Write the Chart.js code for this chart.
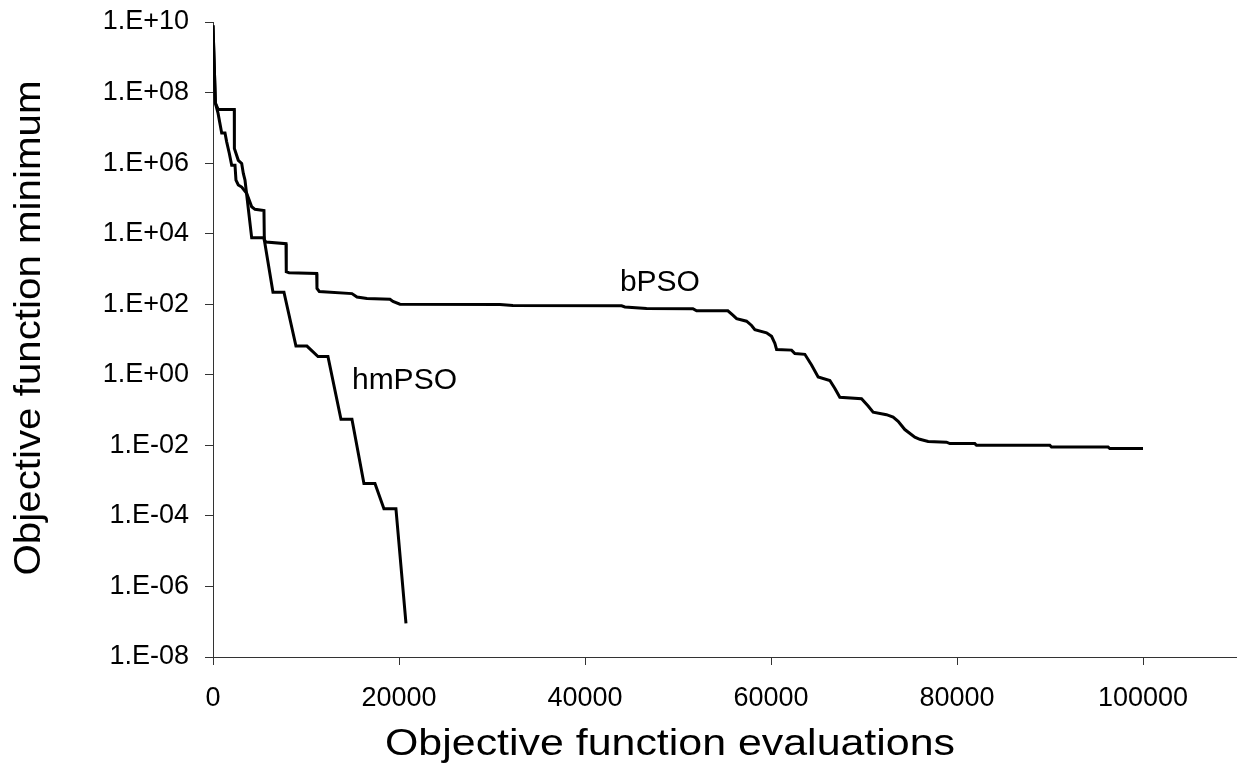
<!DOCTYPE html>
<html>
<head>
<meta charset="utf-8">
<script src="https://cdn.jsdelivr.net/npm/chart.js@4.4.1/dist/chart.umd.min.js"></script>
<style>
  html, body { margin: 0; padding: 0; background: #fff; }
  #wrap { width: 1248px; height: 772px; position: relative; }
</style>
</head>
<body>
<div id="wrap"><canvas id="psoChart"></canvas></div>
<script>
// hmPSO convergence curve (evaluations / best objective value)
const hmpsoEvals = [0, 260, 570, 2290, 2300, 2720, 3085, 3260, 3440, 4160, 5480, 6450, 7630, 8920, 10100,
  11290, 12360, 13760, 14940, 16230, 17415, 18380, 19670, 20750];
const hmpsoValues = [8e9, 5e7, 3.3e7, 3.3e7, 2.6e6, 1.2e6, 9.8e5, 5.1e5, 3.3e5, 7.6e3, 7.6e3, 220, 220, 6.5, 6.5,
  3.3, 3.3, 0.055, 0.055, 8.3e-4, 8.3e-4, 1.6e-4, 1.6e-4, 9e-8];

// bPSO convergence curve
const bpsoEvals = [0, 260, 540, 935, 1290, 1470, 1750, 2010, 2365, 2470, 2720, 3085, 3620, 4160, 4515, 5480,
  5520, 5700, 7850, 7880, 8170, 11150, 11180, 11430, 14940, 15480, 16555, 19030, 19350, 20100, 30850, 32250,
  43935, 44290, 46620, 51600, 52000, 55360, 55900, 56300, 57370, 57910, 58265, 59520, 60060, 60415, 60600,
  62210, 62565, 63640, 64360, 65070, 66330, 66870, 67400, 69735, 70445, 70980, 72420, 73130, 73670, 74390,
  75465, 76000, 76900, 78870, 79230, 81915, 82100, 89980, 90160, 96250, 96430, 100000];
const bpsoValues = [8e9, 5e7, 2.6e7, 7.1e6, 7.1e6, 4.0e6, 1.9e6, 8.7e5, 8.7e5, 3.3e5, 2.4e5, 2.1e5, 1.4e5, 5.8e4,
  4.9e4, 4.5e4, 6.6e3, 5.8e3, 5.2e3, 830, 780, 740, 280, 230, 200, 160, 145, 138, 120, 100, 98, 92,
  90, 84, 76, 75, 65, 65, 49, 39, 33, 25, 19, 15.5, 12.3, 7.8, 5.2,
  5.0, 4.0, 3.8, 1.9, 0.87, 0.69, 0.41, 0.23, 0.21, 0.13, 0.087, 0.074, 0.063, 0.048, 0.028,
  0.017, 0.0148, 0.0129, 0.0123, 0.0112, 0.0112, 0.0100, 0.0100, 0.0089, 0.0089, 0.0081, 0.0081];

// axis ticks
const evalTicks = [0, 20000, 40000, 60000, 80000, 100000];
const yTickValues = [1e-8, 1e-6, 1e-4, 1e-2, 1, 1e2, 1e4, 1e6, 1e8, 1e10];
const yTickLabels = ['1.E-08', '1.E-06', '1.E-04', '1.E-02', '1.E+00', '1.E+02', '1.E+04', '1.E+06', '1.E+08', '1.E+10'];

const xTitle = 'Objective function evaluations';
const yTitle = 'Objective function minimum';

// series name labels, anchored in data units (left edge, middle)
const seriesLabels = [
  { text: 'bPSO', x: 43750, y: 400 },
  { text: 'hmPSO', x: 14940, y: 0.66 }
];

const FONT = '"Liberation Sans", Arial, sans-serif';

function toPoints(xs, ys) {
  return xs.map((x, i) => ({ x: x, y: ys[i] }));
}

// axis titles and curve names drawn by hand so they can sit where Excel put them
const textPlugin = {
  id: 'textPlugin',
  afterDraw(chart) {
    const ctx = chart.ctx;
    const sx = chart.scales.x;
    const sy = chart.scales.y;
    ctx.save();
    ctx.fillStyle = '#000';

    ctx.font = '30px ' + FONT;
    ctx.textAlign = 'left';
    ctx.textBaseline = 'middle';
    seriesLabels.forEach(l => {
      ctx.fillText(l.text, sx.getPixelForValue(l.x), sy.getPixelForValue(l.y));
    });

    // x title
    ctx.font = '36px ' + FONT;
    ctx.textAlign = 'center';
    ctx.textBaseline = 'middle';
    let w = ctx.measureText(xTitle).width;
    ctx.save();
    ctx.translate(670, 745);
    ctx.scale(570 / w, 1);
    ctx.fillText(xTitle, 0, 0);
    ctx.restore();

    // y title
    w = ctx.measureText(yTitle).width;
    ctx.save();
    ctx.translate(30, 328);
    ctx.rotate(-Math.PI / 2);
    ctx.scale(495 / w, 1);
    ctx.fillText(yTitle, 0, 0);
    ctx.restore();

    ctx.restore();
  }
};

new Chart(document.getElementById('psoChart'), {
  type: 'line',
  data: {
    datasets: [{
      label: 'bPSO',
      data: toPoints(bpsoEvals, bpsoValues),
      borderColor: '#000',
      borderWidth: 3,
      pointRadius: 0,
      tension: 0,
      fill: false
    }, {
      label: 'hmPSO',
      data: toPoints(hmpsoEvals, hmpsoValues),
      borderColor: '#000',
      borderWidth: 3,
      pointRadius: 0,
      tension: 0,
      fill: false
    }]
  },
  options: {
    responsive: true,
    maintainAspectRatio: false,
    animation: false,
    layout: {
      padding: { top: 22, right: 12, left: 0, bottom: 0 }
    },
    plugins: {
      legend: { display: false },
      tooltip: { enabled: false }
    },
    scales: {
      x: {
        type: 'linear',
        min: 0,
        max: 110000,
        afterBuildTicks: function (scale) {
          scale.ticks = evalTicks.map(v => ({ value: v }));
        },
        afterFit: function (scale) {
          scale.height = 115;
          scale.paddingLeft = 0;
          scale.paddingRight = 0;
        },
        grid: {
          drawOnChartArea: false,
          drawTicks: true,
          tickLength: 8,
          color: '#333'
        },
        border: { display: true, color: '#333', width: 1 },
        ticks: {
          maxRotation: 0,
          padding: 17,
          color: '#000',
          font: { family: FONT, size: 27 },
          callback: function (value) {
            return String(value);
          }
        }
      },
      y: {
        type: 'logarithmic',
        min: 1e-8,
        max: 1e10,
        afterBuildTicks: function (scale) {
          scale.ticks = yTickValues.map(v => ({ value: v }));
        },
        afterFit: function (scale) {
          scale.width = 213;
          scale.paddingTop = 0;
          scale.paddingBottom = 0;
        },
        grid: {
          drawOnChartArea: false,
          drawTicks: true,
          tickLength: 8,
          color: '#333'
        },
        border: { display: true, color: '#333', width: 1 },
        ticks: {
          padding: 16,
          color: '#000',
          font: { family: FONT, size: 27 },
          callback: function (value, index) {
            return yTickLabels[index];
          }
        }
      }
    }
  },
  plugins: [textPlugin]
});
</script>
</body>
</html>
